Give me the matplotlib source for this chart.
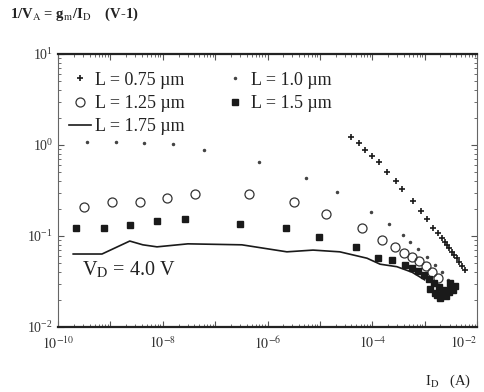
import math
import matplotlib
matplotlib.use("Agg")
import matplotlib.pyplot as plt
from matplotlib.ticker import LogLocator, FixedLocator, FuncFormatter, NullFormatter

plt.rcParams['font.family'] = ['Liberation Serif', 'DejaVu Serif']
plt.rcParams['mathtext.fontset'] = 'stix'

# ---- data (I_D in A, 1/VA in V^-1) ----
id_075 = [10**-4.41, 10**-4.26, 10**-4.14, 10**-4.01, 10**-3.88, 10**-3.72, 10**-3.55,
          10**-3.44, 10**-3.23, 10**-3.07, 10**-2.96, 10**-2.84, 10**-2.75, 10**-2.67,
          10**-2.62, 10**-2.58, 10**-2.53, 10**-2.48, 10**-2.43, 10**-2.39, 10**-2.34,
          10**-2.29, 10**-2.23]
va_075 = [1.22, 1.05, 0.88, 0.757, 0.65, 0.505, 0.40,
          0.33, 0.243, 0.188, 0.154, 0.122, 0.108, 0.095,
          0.087, 0.080, 0.073, 0.067, 0.062, 0.057, 0.052,
          0.047, 0.042]

id_10 = [10**-9.45, 10**-8.89, 10**-8.36, 10**-7.81, 10**-7.21, 10**-6.16, 10**-5.27,
         10**-4.68, 10**-4.03, 10**-3.68, 10**-3.42, 10**-3.28, 10**-3.13, 10**-2.96,
         10**-2.81, 10**-2.67, 10**-2.56]
va_10 = [1.08, 1.08, 1.05, 1.03, 0.88, 0.65, 0.43,
         0.305, 0.184, 0.135, 0.103, 0.086, 0.072, 0.059,
         0.048, 0.040, 0.033]

id_125 = [10**-9.50, 10**-8.97, 10**-8.44, 10**-7.92, 10**-7.39, 10**-6.35, 10**-5.50,
          10**-4.89, 10**-4.20, 10**-3.82, 10**-3.57, 10**-3.40, 10**-3.24, 10**-3.11,
          10**-2.98, 10**-2.86, 10**-2.75]
va_125 = [0.208, 0.237, 0.237, 0.262, 0.29, 0.29, 0.237,
          0.175, 0.122, 0.090, 0.076, 0.065, 0.059, 0.053,
          0.047, 0.040, 0.0345]

id_15 = [10**-9.66, 10**-9.12, 10**-8.63, 10**-8.11, 10**-7.58, 10**-6.53, 10**-5.65,
         10**-5.02, 10**-4.31, 10**-3.89, 10**-3.63, 10**-3.38, 10**-3.24, 10**-3.13,
         10**-3.02, 10**-2.92, 10**-2.82, 10**-2.73, 10**-2.63, 10**-2.54, 10**-2.46,
         10**-2.42, 10**-2.52, 10**-2.60, 10**-2.71, 10**-2.81, 10**-2.90, 10**-2.66,
         10**-2.76, 10**-2.50]
va_15 = [0.122, 0.122, 0.132, 0.146, 0.154, 0.135, 0.122,
         0.0975, 0.076, 0.057, 0.054, 0.048, 0.0445, 0.041,
         0.037, 0.0336, 0.0305, 0.0275, 0.0255, 0.0243, 0.0255,
         0.028, 0.0305, 0.0219, 0.0208, 0.0237, 0.0262, 0.0232,
         0.0225, 0.0265]

id_175 = [10**-9.71, 10**-9.16, 10**-8.91, 10**-8.63, 10**-8.38, 10**-8.11, 10**-7.52,
          10**-6.49, 10**-5.63, 10**-5.13, 10**-4.62, 10**-4.10, 10**-3.85, 10**-3.53,
          10**-3.24, 10**-3.00]
va_175 = [0.0634, 0.0634, 0.074, 0.088, 0.080, 0.076, 0.082,
          0.080, 0.067, 0.070, 0.067, 0.057, 0.049, 0.046,
          0.040, 0.033]

labels = ["L = 0.75 µm", "L = 1.0 µm", "L = 1.25 µm", "L = 1.5 µm", "L = 1.75 µm"]
x_major = [1e-10, 1e-9, 1e-8, 1e-7, 1e-6, 1e-5, 1e-4, 1e-3, 1e-2]
x_labeled = [1e-10, 1e-8, 1e-6, 1e-4, 1e-2]

ink = '#1a1a1a'

fig = plt.figure(figsize=(4.85, 3.92), dpi=100)
ax = fig.add_axes([58/485, 1-327/392, 419/485, 273/392])

h075, = ax.plot(id_075, va_075, linestyle='none', marker='+', ms=5, mew=1.2, color=ink)
h10, = ax.plot(id_10, va_10, linestyle='none', marker='.', ms=3, color='#444444')
h125, = ax.plot(id_125, va_125, linestyle='none', marker='o', ms=6.5, mfc='none', mew=0.9, color='#333333')
h15, = ax.plot(id_15, va_15, linestyle='none', marker='s', ms=4.5, color=ink)
h175, = ax.plot(id_175, va_175, linestyle='-', lw=1.2, color=ink)

ax.set_xscale('log')
ax.set_yscale('log')
ax.set_xlim(1e-10, 1e-2)
ax.set_ylim(1e-2, 1e1)


def xfmt(v, p):
    if any(abs(v / t - 1) < 1e-6 for t in x_labeled):
        return r"$10^{%d}$" % round(math.log10(v))
    return ""


ax.xaxis.set_major_locator(FixedLocator(x_major))
ax.xaxis.set_major_formatter(FuncFormatter(xfmt))
ax.xaxis.set_minor_locator(LogLocator(base=10, subs=range(2, 10), numticks=100))
ax.xaxis.set_minor_formatter(NullFormatter())
ax.yaxis.set_major_locator(LogLocator(base=10, numticks=10))
ax.yaxis.set_minor_locator(LogLocator(base=10, subs=range(2, 10), numticks=100))
ax.yaxis.set_minor_formatter(NullFormatter())

ax.tick_params(which='both', direction='in', top=True, right=True, colors='#555555',
               labelcolor='#333333', labelsize=10)
ax.tick_params(which='major', length=4, width=0.8)
ax.tick_params(which='minor', length=2.5, width=0.6)
ax.tick_params(axis='x', pad=6)

fig.canvas.draw()
xt = [t for t in ax.get_xticklabels() if t.get_text()]
if xt:
    xt[-1].set_horizontalalignment('right')
    xt[-1].set_x(xt[-1].get_position()[0])

for s in ['top', 'bottom']:
    ax.spines[s].set_linewidth(1.6)
    ax.spines[s].set_color('#222222')
for s in ['left', 'right']:
    ax.spines[s].set_linewidth(0.8)
    ax.spines[s].set_color('#666666')

leg = ax.legend([h075, h125, h175, h10, h15],
                [labels[0], labels[2], labels[4], labels[1], labels[3]],
                ncol=2, frameon=False, loc='upper left', bbox_to_anchor=(0.0, 0.975),
                fontsize=13, handlelength=1.2, handletextpad=0.25, columnspacing=2.2,
                labelspacing=0.35, borderaxespad=0.2)
for t in leg.get_texts():
    t.set_color('#222222')

ax.text(0.057, 0.19, r"V$_{\rm D}$ = 4.0 V", transform=ax.transAxes, fontsize=14.5, color='#222222')

fig.text(10/485, 1-18/392, r"1/V$_{\rm A}$ = g$_{\rm m}$/I$_{\rm D}$    (V-1)",
         fontsize=10.5, color='#222222', fontweight='bold')
fig.text(425/485, 1-385/392, r"I$_{\rm D}$   (A)", fontsize=10.5, color='#222222')

fig.savefig("out.png", dpi=100)
